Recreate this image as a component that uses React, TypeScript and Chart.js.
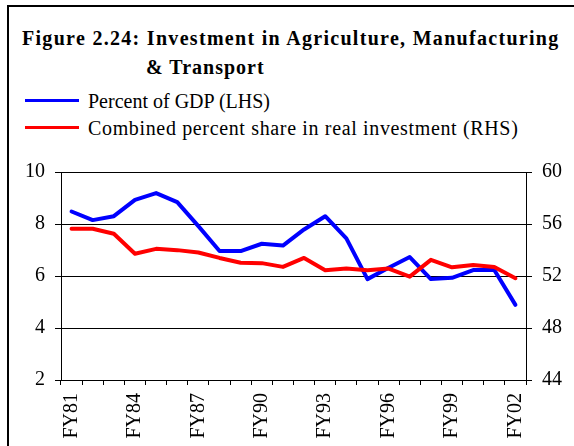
import React, { useEffect, useRef } from "react";
import { Chart, registerables } from "chart.js";

Chart.register(...registerables);

const categories = [
  "FY81", "FY82", "FY83", "FY84", "FY85", "FY86", "FY87", "FY88", "FY89", "FY90", "FY91",
  "FY92", "FY93", "FY94", "FY95", "FY96", "FY97", "FY98", "FY99", "FY00", "FY01", "FY02",
];
const gdpPercent = [8.48, 8.15, 8.3, 8.93, 9.19, 8.84, 7.92, 6.96, 6.96, 7.24, 7.17, 7.79, 8.3, 7.45, 5.88, 6.32, 6.73, 5.88, 5.93, 6.23, 6.23, 4.89];
const realInvestShare = [55.63, 55.63, 55.25, 53.71, 54.09, 53.99, 53.81, 53.39, 53.02, 52.99, 52.7, 53.39, 52.45, 52.57, 52.45, 52.57, 51.95, 53.24, 52.67, 52.84, 52.7, 51.83];
const leftTicks = { min: 2, max: 10, step: 2 };
const rightTicks = { min: 44, max: 60, step: 4 };
const titleLine1 = "Figure 2.24: Investment in Agriculture, Manufacturing";
const titleLine2 = "& Transport";
const seriesNames = ["Percent of GDP (LHS)", "Combined percent share in real investment (RHS)"];
const seriesColors = ["#0000FF", "#FF0000"];

const FONT = "'Liberation Serif', 'Times New Roman', serif";

export default function App() {
  const ref = useRef<HTMLCanvasElement | null>(null);

  useEffect(() => {
    if (!ref.current) return;
    const chart = new Chart(ref.current, {
      type: "line",
      data: {
        labels: categories,
        datasets: [
          {
            label: seriesNames[0],
            data: gdpPercent,
            yAxisID: "y",
            borderColor: seriesColors[0],
            backgroundColor: seriesColors[0],
            borderWidth: 4,
            pointRadius: 0,
            tension: 0,
            borderJoinStyle: "round",
            borderCapStyle: "round",
            order: 1,
          },
          {
            label: seriesNames[1],
            data: realInvestShare,
            yAxisID: "y1",
            borderColor: seriesColors[1],
            backgroundColor: seriesColors[1],
            borderWidth: 4,
            pointRadius: 0,
            tension: 0,
            borderJoinStyle: "round",
            borderCapStyle: "round",
            order: 0,
          },
        ],
      },
      options: {
        animation: false,
        responsive: false,
        maintainAspectRatio: false,
        layout: { padding: { top: 15, left: 0, right: 0, bottom: 0 } },
        plugins: {
          legend: { display: false },
          title: { display: false },
          tooltip: { enabled: false },
        },
        scales: {
          x: {
            offset: true,
            afterFit: (s: any) => {
              s.height = 66;
            },
            grid: {
              offset: true,
              drawOnChartArea: false,
              drawTicks: true,
              tickLength: 5,
              color: "#000",
              lineWidth: 1,
            },
            border: { display: true, color: "#000", width: 1 },
            ticks: {
              autoSkip: false,
              minRotation: 90,
              maxRotation: 90,
              padding: 8,
              color: "#000",
              font: { family: FONT, size: 20 },
              callback: (_v: any, i: number) => (i % 3 === 0 ? categories[i] : ""),
            },
          },
          y: {
            position: "left",
            min: leftTicks.min,
            max: leftTicks.max,
            afterFit: (s: any) => {
              s.width = 61;
            },
            grid: {
              color: "#000",
              lineWidth: 1,
              tickLength: 6,
              drawOnChartArea: true,
            },
            border: { display: true, color: "#000", width: 1 },
            ticks: {
              stepSize: leftTicks.step,
              padding: 10,
              color: "#000",
              font: { family: FONT, size: 20 },
            },
          },
          y1: {
            position: "right",
            min: rightTicks.min,
            max: rightTicks.max,
            afterFit: (s: any) => {
              s.width = 48;
            },
            grid: {
              color: "#000",
              lineWidth: 1,
              tickLength: 6,
              drawOnChartArea: false,
            },
            border: { display: true, color: "#000", width: 1 },
            ticks: {
              stepSize: rightTicks.step,
              padding: 10,
              color: "#000",
              font: { family: FONT, size: 20 },
            },
          },
        },
      },
    });
    return () => chart.destroy();
  }, []);

  const textBase: React.CSSProperties = {
    position: "absolute",
    fontFamily: FONT,
    color: "#000",
    whiteSpace: "nowrap",
    margin: 0,
    fontSize: 20,
    lineHeight: "20px",
  };

  const legendSpacing = [0, 0.65];

  return (
    <div
      style={{
        position: "absolute",
        left: 0,
        top: 0,
        width: 574,
        height: 446,
        overflow: "hidden",
        background: "#fff",
      }}
    >
      <div
        style={{
          position: "absolute",
          left: 7,
          top: 5,
          width: 700,
          height: 600,
          borderLeft: "2px solid #000",
          borderTop: "2px solid #000",
        }}
      />
      <div style={{ ...textBase, left: 22, top: 28, fontWeight: "bold", letterSpacing: 1.3 }}>
        {titleLine1}
      </div>
      <div style={{ ...textBase, left: 146, top: 57, fontWeight: "bold", letterSpacing: 1.0 }}>
        {titleLine2}
      </div>
      {seriesNames.map((name, i) => (
        <React.Fragment key={name}>
          <div
            style={{
              position: "absolute",
              left: 25,
              top: 99 + i * 27,
              width: 54,
              height: 3,
              background: seriesColors[i],
            }}
          />
          <div style={{ ...textBase, left: 88, top: 91 + i * 27, letterSpacing: legendSpacing[i] }}>{name}</div>
        </React.Fragment>
      ))}
      <canvas
        ref={ref}
        width={574}
        height={296}
        style={{ position: "absolute", left: 0, top: 150, width: 574, height: 296 }}
      />
    </div>
  );
}
